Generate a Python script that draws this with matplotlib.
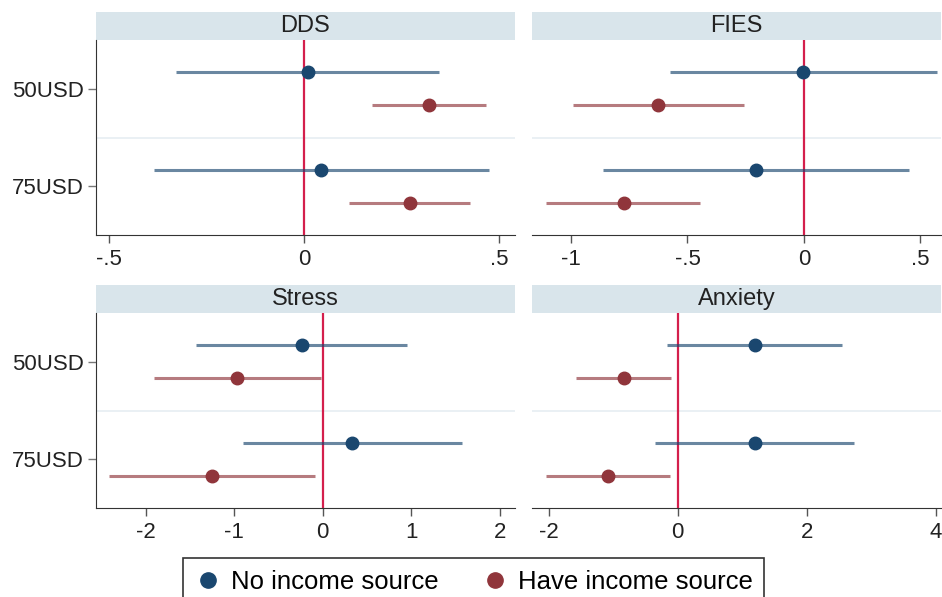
import matplotlib
matplotlib.use('Agg')
import matplotlib.pyplot as plt
from matplotlib.lines import Line2D
from matplotlib.patches import Rectangle

plt.rcParams['font.family'] = ['Liberation Sans', 'DejaVu Sans']

# coefficient estimates with 95% CIs, order: 50USD, 75USD
groups = ['50USD', '75USD']
panels = ['DDS', 'FIES', 'Stress', 'Anxiety']

no_inc_b  = {'DDS': [0.010, 0.044], 'FIES': [-0.003, -0.206],
             'Stress': [-0.237, 0.334], 'Anxiety': [1.20, 1.20]}
no_inc_lo = {'DDS': [-0.328, -0.385], 'FIES': [-0.576, -0.864],
             'Stress': [-1.433, -0.896], 'Anxiety': [-0.164, -0.345]}
no_inc_hi = {'DDS': [0.346, 0.474], 'FIES': [0.569, 0.451],
             'Stress': [0.955, 1.569], 'Anxiety': [2.55, 2.736]}

inc_b  = {'DDS': [0.320, 0.272], 'FIES': [-0.625, -0.774],
          'Stress': [-0.967, -1.246], 'Anxiety': [-0.839, -1.08]}
inc_lo = {'DDS': [0.174, 0.115], 'FIES': [-0.993, -1.107],
          'Stress': [-1.907, -2.408], 'Anxiety': [-1.581, -2.045]}
inc_hi = {'DDS': [0.467, 0.426], 'FIES': [-0.256, -0.446],
          'Stress': [-0.023, -0.087], 'Anxiety': [-0.103, -0.113]}

xticks = {'DDS': [-0.5, 0, 0.5], 'FIES': [-1, -0.5, 0, 0.5],
          'Stress': [-2, -1, 0, 1, 2], 'Anxiety': [-2, 0, 2, 4]}
xticklabels = {'DDS': ['-.5', '0', '.5'], 'FIES': ['-1', '-.5', '0', '.5'],
               'Stress': ['-2', '-1', '0', '1', '2'], 'Anxiety': ['-2', '0', '2', '4']}
xlims = {'DDS': (-0.533, 0.541), 'FIES': (-1.167, 0.588),
         'Stress': (-2.56, 2.17), 'Anxiety': (-2.257, 4.076)}

BLUE = '#1a476f'
RED = '#90353b'
ZERO = '#d41f4c'
STRIP = '#d9e5eb'

W, H = 942, 597
fig = plt.figure(figsize=(W / 100, H / 100), dpi=100)

# axes boxes in pixels: left, right, top, bottom
boxes = {'DDS': (96, 515, 40, 235), 'FIES': (532, 941, 40, 235),
         'Stress': (96, 515, 313, 508), 'Anxiety': (532, 941, 313, 508)}
strip_h = 28

ypos = [1, 2]
off = 0.167

for name in panels:
    l, r, t, b = boxes[name]
    ax = fig.add_axes([l / W, 1 - b / H, (r - l) / W, (b - t) / H])
    ax.set_xlim(*xlims[name])
    ax.set_ylim(2.5, 0.5)

    ax.axhline(1.5, color='#e6eef2', lw=1.2, zorder=0)
    ax.axvline(0, color=ZERO, lw=1.6, zorder=1)

    yb = [y - off for y in ypos]
    yr = [y + off for y in ypos]
    ax.hlines(yb, no_inc_lo[name], no_inc_hi[name], color=BLUE, alpha=0.65, lw=2.2, zorder=2)
    ax.hlines(yr, inc_lo[name], inc_hi[name], color=RED, alpha=0.65, lw=2.2, zorder=2)
    ax.plot(no_inc_b[name], yb, 'o', color=BLUE, ms=9, zorder=3)
    ax.plot(inc_b[name], yr, 'o', color=RED, ms=9, zorder=3)

    for s in ['top', 'right']:
        ax.spines[s].set_visible(False)
    ax.spines['bottom'].set_color('#333333')
    ax.spines['left'].set_color('#333333')

    ax.set_xticks(xticks[name])
    ax.set_xticklabels(xticklabels[name], fontsize=16, color='#222222')
    ax.tick_params(axis='x', length=6, width=1, color='#555555', pad=4)

    if l < 300:
        ax.set_yticks(ypos)
        ax.set_yticklabels(groups, fontsize=16, color='#222222')
        ax.tick_params(axis='y', length=6, width=1, color='#777777', pad=3)
    else:
        ax.spines['left'].set_visible(False)
        ax.set_yticks([])

    # panel title strip
    ax.add_patch(Rectangle((0, 1), 1, strip_h / (b - t), transform=ax.transAxes,
                           facecolor=STRIP, edgecolor='none', clip_on=False))
    ax.text(0.5, 1 + strip_h / 2 / (b - t), name, transform=ax.transAxes,
            ha='center', va='center', fontsize=17, color='#222222')

handles = [Line2D([], [], ls='none', marker='o', color=BLUE, ms=11),
           Line2D([], [], ls='none', marker='o', color=RED, ms=11)]
leg = fig.legend(handles, ['No income source', 'Have income source'], ncol=2,
                 loc='upper center', bbox_to_anchor=(0.503, 1 - 558 / H),
                 borderaxespad=0, fontsize=18.5, frameon=True, fancybox=False,
                 edgecolor='black', handletextpad=0.4, columnspacing=1.7,
                 borderpad=0.45, handlelength=1.0)
leg.get_frame().set_linewidth(1.2)

fig.savefig('out.png', dpi=100)
